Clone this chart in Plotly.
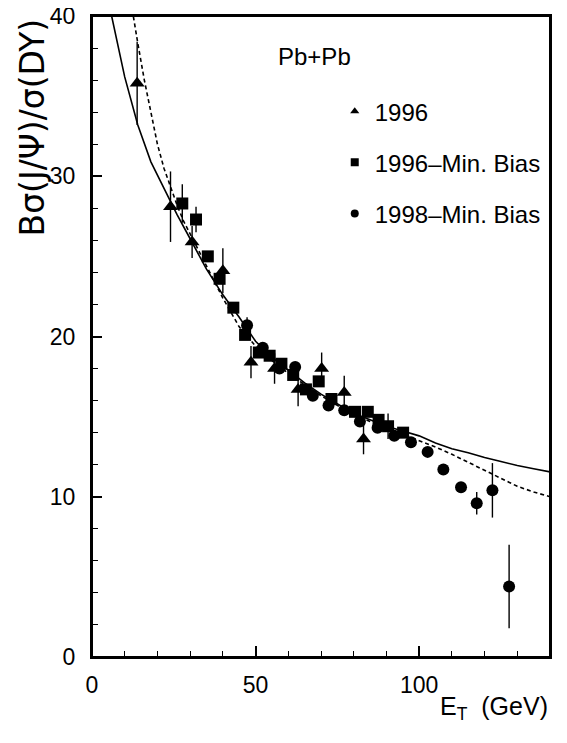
import plotly.graph_objects as go

# ---- data ----
# 1996 (triangles)
x_1996 = [13.8, 24.0, 30.6, 40.0, 48.6, 55.8, 63.0, 70.2, 77.1, 83.0]
y_1996 = [35.8, 28.1, 25.9, 24.1, 18.4, 18.0, 16.7, 18.0, 16.5, 13.6]
e_1996 = [2.6, 2.2, 1.0, 1.4, 1.0, 0.95, 1.05, 1.0, 1.05, 0.95]

# 1996 - Min. Bias (squares)
x_96mb = [27.6, 31.8, 35.4, 39.0, 43.2, 46.8, 51.0, 54.3, 57.9, 61.5, 65.4, 69.3, 73.2, 80.4, 84.3, 87.6, 90.5, 95.1]
y_96mb = [28.3, 27.3, 25.0, 23.6, 21.8, 20.1, 19.0, 18.8, 18.3, 17.6, 16.7, 17.2, 16.1, 15.3, 15.3, 14.8, 14.4, 14.0]
e_96mb = [1.2, 0.8, 0.3, 0.3, 0.3, 0.3, 0.3, 0.3, 0.3, 0.3, 0.3, 0.3, 0.3, 0.3, 0.3, 0.3, 0.8, 0.3]

# 1998 - Min. Bias (circles)
x_98mb = [47.4, 52.2, 57.3, 62.1, 67.5, 72.3, 77.1, 81.9, 87.3, 92.4, 97.5, 102.6, 107.4, 112.8, 117.6, 122.4, 127.5]
y_98mb = [20.7, 19.3, 18.0, 18.1, 16.3, 15.7, 15.4, 14.7, 14.3, 13.8, 13.4, 12.8, 11.7, 10.6, 9.6, 10.4, 4.4]
e_98mb = [0.5, 0.3, 0.3, 0.3, 0.3, 0.3, 0.3, 0.3, 0.3, 0.3, 0.3, 0.3, 0.3, 0.3, 0.7, 1.7, 2.6]

# model curves
x_solid = [5.5, 6, 10, 14, 18, 22, 26, 30, 35, 40, 45, 50, 55, 60, 65, 70, 75, 80, 85, 90, 95, 100, 105, 110, 115, 120, 125, 130, 135, 140]
y_solid = [40.6, 40.0, 36.2, 33.2, 30.9, 29.2, 27.6, 26.1, 24.2, 22.6, 21.2, 19.7, 18.7, 17.9, 17.1, 16.4, 15.8, 15.2, 14.8, 14.4, 14.1, 13.8, 13.35, 13.0, 12.75, 12.45, 12.2, 11.95, 11.75, 11.55]

x_dash = [12.3, 12.6, 14, 16, 18, 20, 22, 24, 26, 28, 30, 35, 40, 45, 50, 55, 60, 65, 70, 75, 80, 85, 90, 95, 100, 105, 110, 115, 120, 125, 130, 135, 140]
y_dash = [40.4, 40.0, 38.3, 36.0, 33.9, 32.0, 30.5, 29.3, 28.2, 27.2, 26.4, 24.4, 22.4, 20.6, 19.4, 18.5, 17.7, 17.0, 16.3, 15.7, 15.1, 14.7, 14.3, 13.95, 13.55, 13.1, 12.65, 12.15, 11.6, 11.1, 10.65, 10.3, 10.0]

legend_names = ["1996", "1996\u2013Min. Bias", "1998\u2013Min. Bias"]
legend_symbols = ["triangle-up", "square", "circle"]

FONT = "Liberation Sans, Arial, sans-serif"

fig = go.Figure()

fig.add_trace(go.Scatter(x=x_solid, y=y_solid, mode="lines",
                         line=dict(color="black", width=1.6), showlegend=False, hoverinfo="skip"))
fig.add_trace(go.Scatter(x=x_dash, y=y_dash, mode="lines",
                         line=dict(color="black", width=1.6, dash="4px,3px"), showlegend=False, hoverinfo="skip"))

def data_trace(x, y, e, sym, size):
    return go.Scatter(x=x, y=y, mode="markers",
                      marker=dict(symbol=sym, size=size, color="black"),
                      error_y=dict(type="data", array=e, visible=True, color="black", thickness=1.4, width=0),
                      showlegend=False)

fig.add_trace(data_trace(x_98mb, y_98mb, e_98mb, "circle", 12))
fig.add_trace(data_trace(x_96mb, y_96mb, e_96mb, "square", 12))
fig.add_trace(data_trace(x_1996, y_1996, e_1996, "triangle-up", 13))

# legend entries
for i, (nm, sym) in enumerate(zip(legend_names, legend_symbols)):
    fig.add_trace(go.Scatter(x=[None], y=[None], mode="markers", name=nm,
                             marker=dict(symbol=sym, size=8, color="black"),
                             legendgroup="g%d" % i, showlegend=True))

fig.update_layout(
    width=551, height=715,
    margin=dict(l=84, r=9, t=8, b=66, autoexpand=False),
    paper_bgcolor="white", plot_bgcolor="white",
    font=dict(family=FONT, color="black", size=22),
    legend=dict(x=0.53, y=0.886, xanchor="left", yanchor="top",
                bgcolor="rgba(0,0,0,0)", font=dict(family=FONT, size=24),
                tracegroupgap=17, itemwidth=30),
    shapes=[dict(type="rect", xref="paper", yref="paper", x0=0, x1=1, y0=0, y1=1,
                 line=dict(color="black", width=2), fillcolor="rgba(0,0,0,0)", layer="above")],
)

fig.update_xaxes(range=[0, 140], showgrid=False, zeroline=False,
                 showline=True, linecolor="black", linewidth=2, mirror=True,
                 ticks="inside", ticklen=11, tickwidth=1.5, tickcolor="black",
                 tickvals=[0, 50, 100], ticktext=["0", "50", "100"],
                 tickfont=dict(family=FONT, size=23), ticklabelstandoff=6,
                 ticklabeloverflow="allow",
                 minor=dict(dtick=10, ticks="inside", ticklen=6, tickwidth=1.2, tickcolor="black"))
fig.update_yaxes(range=[0, 40], showgrid=False, zeroline=False,
                 showline=True, linecolor="black", linewidth=2, mirror=True,
                 ticks="inside", ticklen=10, tickwidth=1.5, tickcolor="black",
                 tickvals=[0, 10, 20, 30, 40], ticktext=["0", "10", "20", "30", "40"],
                 tickfont=dict(family=FONT, size=23), ticklabelstandoff=10,
                 ticklabeloverflow="allow",
                 minor=dict(dtick=2, ticks="inside", ticklen=6, tickwidth=1.2, tickcolor="black"))

fig.add_annotation(text="Pb+Pb", xref="paper", yref="paper", x=0.485, y=0.937,
                   xanchor="center", yanchor="middle", showarrow=False,
                   font=dict(family=FONT, size=24))
fig.add_annotation(text="B\u03c3(J/\u03a8)/\u03c3(DY)", xref="paper", yref="paper",
                   x=-0.13, y=1.0, xanchor="center", yanchor="top", textangle=-90,
                   showarrow=False, font=dict(family="DejaVu Sans, sans-serif", size=33))
fig.add_annotation(text="E<sub>T</sub>  (GeV)", xref="paper", yref="paper",
                   x=1.0, y=-0.079, xanchor="right", yanchor="middle", showarrow=False,
                   font=dict(family=FONT, size=25))

fig.write_html("out.html")
